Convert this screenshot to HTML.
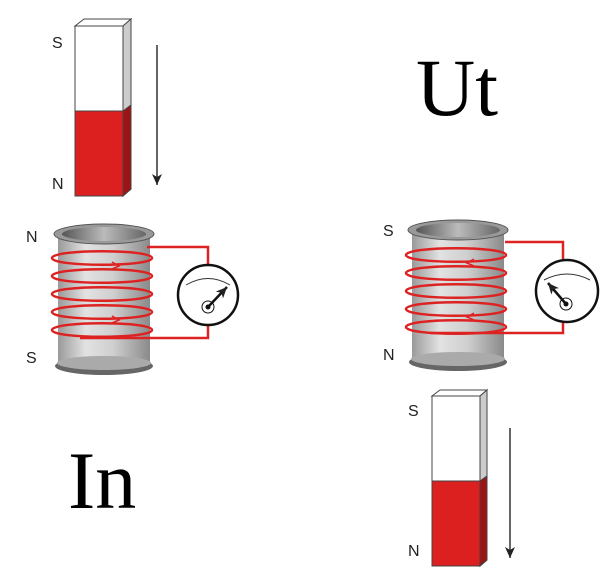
<!DOCTYPE html>
<html><head><style>body{margin:0;background:#fff}svg{display:block}</style></head><body>
<svg width="604" height="576" viewBox="0 0 604 576" xmlns="http://www.w3.org/2000/svg" font-family="Liberation Sans, sans-serif">
<defs>
<linearGradient id="can" x1="0" x2="1" y1="0" y2="0">
<stop offset="0" stop-color="#9a9a9a"/><stop offset="0.3" stop-color="#e2e2e2"/><stop offset="0.6" stop-color="#cfcfcf"/><stop offset="1" stop-color="#8a8a8a"/></linearGradient>
<linearGradient id="inner" x1="0" x2="1"><stop offset="0" stop-color="#555"/><stop offset="0.5" stop-color="#bbb"/><stop offset="1" stop-color="#666"/></linearGradient>
<marker id="ah" markerWidth="12" markerHeight="10" refX="11" refY="5" orient="auto" markerUnits="userSpaceOnUse"><path d="M0,0 L11,5 L0,10 L3,5 Z" fill="#222"/></marker>
<g id="coil">
<rect x="3" y="8" width="92" height="130" fill="url(#can)"/>
<ellipse cx="49" cy="140" rx="49" ry="9" fill="#666"/>
<ellipse cx="49" cy="137" rx="47" ry="7" fill="#aaa"/>
<ellipse cx="49" cy="8" rx="50" ry="10" fill="#999" stroke="#555"/>
<ellipse cx="49" cy="8" rx="42" ry="7" fill="url(#inner)"/>
</g>
<g id="loops" fill="none" stroke="#d22" stroke-width="2.5">
<path d="M0,0 C0,-9 100,-9 100,0 C100,9 0,9 0,0"/>
<path d="M0,18 C0,9 100,9 100,18 C100,27 0,27 0,18"/>
<path d="M0,36 C0,27 100,27 100,36 C100,45 0,45 0,36"/>
<path d="M0,54 C0,45 100,45 100,54 C100,63 0,63 0,54"/>
<path d="M0,72 C0,63 100,63 100,72 C100,81 0,81 0,72"/>
</g>
</defs>
<!-- left magnet -->
<polygon points="75,26 84,19 131,19 123,26" fill="#fff" stroke="#444" stroke-width="1"/>
<polygon points="123,26 131,19 131,189 123,196" fill="#ccc" stroke="#444" stroke-width="1"/>
<rect x="75" y="26" width="48" height="85" fill="#fff" stroke="#444"/>
<rect x="75" y="111" width="48" height="85" fill="#dc2020" stroke="#444"/>
<polygon points="123,111 131,105 131,189 123,196" fill="#9c1414" stroke="#444"/>
<line x1="157" y1="45" x2="157" y2="185" stroke="#333" stroke-width="1.5" marker-end="url(#ah)"/>
<text x="52" y="48" font-size="16" fill="#222">S</text>
<text x="52" y="189" font-size="16" fill="#222">N</text>
<!-- left coil -->
<use href="#coil" x="55" y="226"/>
<use href="#loops" x="52" y="258"/>
<g fill="none" stroke="#d22" stroke-width="2.5">
<path d="M147,247 H208 V264 M208,326 V338 H80"/>
<path d="M112,262 l7,4 -7,3 M112,316 l7,4 -7,3" stroke-width="1.5"/>
</g>
<circle cx="208" cy="295" r="30" fill="#fff" stroke="#111" stroke-width="2.5"/>
<path d="M186,285 Q208,272 230,285" fill="none" stroke="#333"/>
<circle cx="208" cy="307" r="6" fill="none" stroke="#111"/>
<circle cx="208" cy="307" r="2.5" fill="#111"/>
<line x1="208" y1="307" x2="227" y2="287" stroke="#111" stroke-width="2.5" marker-end="url(#ah)"/>
<text x="26" y="242" font-size="16" fill="#222">N</text>
<text x="26" y="363" font-size="16" fill="#222">S</text>
<text x="68" y="508" font-size="82" font-family="Liberation Serif, serif">In</text>
<!-- right -->
<text x="416" y="115" font-size="82" font-family="Liberation Serif, serif">Ut</text>
<use href="#coil" x="409" y="222"/>
<use href="#loops" x="406" y="255"/>
<g fill="none" stroke="#d22" stroke-width="2.5">
<path d="M505,242 H563 V260 M563,322 V333 H430"/>
<path d="M474,259 l-7,4 7,3 M474,313 l-7,4 7,3" stroke-width="1.5"/>
</g>
<circle cx="567" cy="291" r="31" fill="#fff" stroke="#111" stroke-width="2.5"/>
<path d="M544,280 Q567,268 590,280" fill="none" stroke="#333"/>
<circle cx="566" cy="304" r="6" fill="none" stroke="#111"/>
<circle cx="566" cy="304" r="2.5" fill="#111"/>
<line x1="566" y1="304" x2="548" y2="283" stroke="#111" stroke-width="2.5" marker-end="url(#ah)"/>
<text x="383" y="236" font-size="16" fill="#222">S</text>
<text x="383" y="360" font-size="16" fill="#222">N</text>
<!-- right magnet -->
<polygon points="432,396 440,390 487,390 480,396" fill="#fff" stroke="#444"/>
<polygon points="480,396 487,390 487,560 480,566" fill="#ccc" stroke="#444"/>
<rect x="432" y="396" width="48" height="85" fill="#fff" stroke="#444"/>
<rect x="432" y="481" width="48" height="85" fill="#dc2020" stroke="#444"/>
<polygon points="480,481 487,476 487,560 480,566" fill="#9c1414" stroke="#444"/>
<line x1="510" y1="428" x2="510" y2="558" stroke="#333" stroke-width="1.5" marker-end="url(#ah)"/>
<text x="408" y="416" font-size="16" fill="#222">S</text>
<text x="408" y="556" font-size="16" fill="#222">N</text>
</svg>
</body></html>
